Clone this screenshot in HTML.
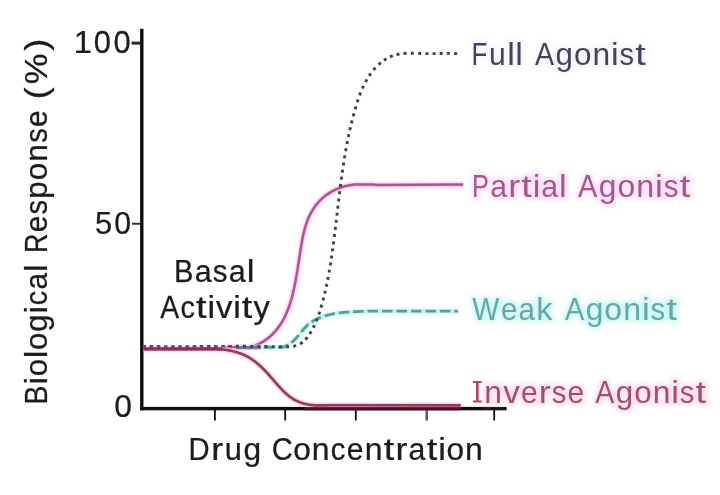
<!DOCTYPE html>
<html>
<head>
<meta charset="utf-8">
<title>Agonist dose-response curves</title>
<style>
  html, body { margin: 0; padding: 0; background: #ffffff; }
  body { width: 720px; height: 495px; overflow: hidden; font-family: "Liberation Sans", sans-serif; }
  svg { display: block; }
  text { font-family: "Liberation Sans", sans-serif; font-size: 31.54px; }
</style>
</head>
<body>
<svg width="720" height="495" viewBox="0 0 720 495">
  <rect x="0" y="0" width="720" height="495" fill="#ffffff"/>
  <defs><filter id="soft" x="-2%" y="-2%" width="104%" height="104%"><feGaussianBlur stdDeviation="0.45"/></filter><filter id="halo" x="-5%" y="-5%" width="110%" height="110%"><feGaussianBlur stdDeviation="2.2"/></filter></defs>
  <g filter="url(#soft)">
  <!-- axes -->
  <g fill="#111111" stroke="none">
    <rect x="140.1" y="28.8" width="3.4" height="381.5"/>
    <rect x="140.1" y="406.9" width="366.5" height="3.4"/>
    <rect x="131.5" y="41.6" width="9" height="3.0" fill="#2a2a2a"/>
    <rect x="132.0" y="222.8" width="9" height="1.9" fill="#2e2e2e"/>
    <rect x="214.0" y="409" width="1.8" height="11.5"/>
    <rect x="284.3" y="409" width="1.8" height="11.5"/>
    <rect x="354.9" y="409" width="1.8" height="11.5"/>
    <rect x="425.5" y="409" width="2.4" height="11.5" fill="#555555"/>
    <rect x="493.3" y="409" width="1.8" height="11.5"/>
  </g>

  <!-- partial agonist -->
  <g fill="none" stroke-linejoin="round">
    <path d="M224.0,347.4 L235.8,347.2 L236.8,347.3 L237.8,347.4 L238.8,347.4 L239.8,347.4 L240.8,347.4 L241.8,347.4 L242.8,347.4 L243.8,347.4 L244.8,347.4 L245.8,347.4 L246.8,347.4 L247.8,347.3 L248.7,347.1 L249.7,346.9 L250.7,346.7 L251.7,346.5 L252.6,346.2 L253.6,345.9 L254.6,345.6 L255.5,345.3 L256.4,344.9 L257.4,344.6 L258.3,344.1 L259.2,343.7 L260.1,343.3 L261.0,342.8 L261.8,342.3 L262.7,341.8 L263.6,341.3 L264.4,340.8 L265.2,340.2 L266.0,339.6 L266.8,339.0 L267.6,338.4 L268.4,337.8 L269.2,337.2 L270.0,336.5 L270.7,335.8 L271.4,335.2 L272.2,334.5 L272.9,333.8 L273.6,333.0 L274.2,332.3 L274.9,331.6 L275.6,330.8 L276.2,330.1 L276.9,329.3 L277.5,328.5 L278.1,327.7 L278.7,326.9 L279.3,326.1 L279.8,325.3 L280.4,324.4 L280.9,323.6 L281.5,322.7 L282.0,321.9 L282.5,321.0 L283.0,320.2 L283.5,319.3 L284.0,318.4 L284.4,317.5 L284.9,316.6 L285.3,315.7 L285.7,314.8 L286.1,313.9 L286.5,313.0 L286.9,312.1 L287.3,311.1 L287.7,310.2 L288.1,309.3 L288.4,308.3 L288.8,307.4 L289.1,306.5 L289.4,305.5 L289.7,304.6 L290.0,303.6 L290.3,302.7 L290.6,301.7 L290.9,300.7 L291.2,299.8 L291.5,298.8 L291.8,297.9 L292.0,296.9 L292.3,295.9 L292.5,295.0 L292.8,294.0 L293.0,293.0 L293.2,292.0 L293.4,291.1 L293.7,290.1 L293.9,289.1 L294.1,288.1 L294.3,287.2 L294.5,286.2 L294.7,285.2 L294.9,284.2 L295.1,283.2 L295.3,282.2 L295.5,281.3 L295.7,280.3 L295.8,279.3 L296.0,278.3 L296.2,277.3 L296.4,276.3 L296.5,275.4 L296.7,274.4 L296.9,273.4 L297.0,272.4 L297.2,271.4 L297.4,270.4 L297.5,269.4 L297.7,268.4 L297.8,267.5 L298.0,266.5 L298.1,265.5 L298.3,264.5 L298.4,263.5 L298.6,262.5 L298.8,261.5 L298.9,260.5 L299.1,259.5 L299.2,258.6 L299.4,257.6 L299.5,256.6 L299.7,255.6 L299.8,254.6 L300.0,253.6 L300.1,252.6 L300.3,251.6 L300.4,250.6 L300.6,249.6 L300.7,248.7 L300.9,247.7 L301.0,246.7 L301.2,245.7 L301.4,244.7 L301.5,243.7 L301.7,242.7 L301.9,241.8 L302.1,240.8 L302.2,239.8 L302.4,238.8 L302.6,237.8 L302.8,236.8 L303.0,235.9 L303.2,234.9 L303.5,233.9 L303.7,232.9 L303.9,232.0 L304.2,231.0 L304.4,230.0 L304.7,229.1 L304.9,228.1 L305.2,227.1 L305.5,226.2 L305.8,225.2 L306.1,224.3 L306.4,223.3 L306.8,222.4 L307.1,221.4 L307.5,220.5 L307.8,219.6 L308.2,218.6 L308.6,217.7 L309.0,216.8 L309.4,215.9 L309.9,215.0 L310.3,214.1 L310.8,213.2 L311.3,212.3 L311.7,211.5 L312.3,210.6 L312.8,209.7 L313.3,208.9 L313.9,208.1 L314.4,207.2 L315.0,206.4 L315.6,205.6 L316.2,204.8 L316.8,204.0 L317.5,203.3 L318.1,202.5 L318.8,201.8 L319.5,201.0 L320.2,200.3 L320.9,199.6 L321.6,198.9 L322.4,198.2 L323.1,197.6 L323.9,196.9 L324.6,196.3 L325.4,195.7 L326.2,195.1 L327.0,194.5 L327.9,193.9 L328.7,193.4 L329.5,192.8 L330.4,192.3 L331.3,191.8 L332.1,191.3 L333.0,190.9 L333.9,190.4 L334.8,190.0 L335.7,189.5 L336.6,189.1 L337.6,188.7 L338.5,188.4 L339.4,188.0 L340.4,187.7 L341.3,187.4 L342.3,187.0 L343.2,186.8 L344.2,186.5 L345.1,186.2 L346.1,186.0 L347.1,185.8 L348.1,185.5 L349.0,185.4 L350.0,185.2 L351.0,185.0 L352.0,184.9 L353.0,184.7 L354.0,184.6 L355.0,184.6 L356.0,184.6 L357.0,184.6 L358.0,184.6 L359.0,184.6 L360.0,184.6 L361.0,184.6 L362.0,184.6 L363.0,184.6 L364.0,184.6 L365.0,184.6 L366.0,184.6 L367.0,184.6 L368.0,184.6 L369.0,184.6 L370.0,184.6 L371.0,184.6 L372.0,184.6 L373.0,184.6 L374.0,184.7 L375.0,184.8 L376.0,184.9 L463.2,184.6" stroke="#fbd0ee" stroke-width="6.5" opacity="0.55"/>
    <path d="M224.0,347.4 L235.8,347.2 L236.8,347.3 L237.8,347.4 L238.8,347.4 L239.8,347.4 L240.8,347.4 L241.8,347.4 L242.8,347.4 L243.8,347.4 L244.8,347.4 L245.8,347.4 L246.8,347.4 L247.8,347.3 L248.7,347.1 L249.7,346.9 L250.7,346.7 L251.7,346.5 L252.6,346.2 L253.6,345.9 L254.6,345.6 L255.5,345.3 L256.4,344.9 L257.4,344.6 L258.3,344.1 L259.2,343.7 L260.1,343.3 L261.0,342.8 L261.8,342.3 L262.7,341.8 L263.6,341.3 L264.4,340.8 L265.2,340.2 L266.0,339.6 L266.8,339.0 L267.6,338.4 L268.4,337.8 L269.2,337.2 L270.0,336.5 L270.7,335.8 L271.4,335.2 L272.2,334.5 L272.9,333.8 L273.6,333.0 L274.2,332.3 L274.9,331.6 L275.6,330.8 L276.2,330.1 L276.9,329.3 L277.5,328.5 L278.1,327.7 L278.7,326.9 L279.3,326.1 L279.8,325.3 L280.4,324.4 L280.9,323.6 L281.5,322.7 L282.0,321.9 L282.5,321.0 L283.0,320.2 L283.5,319.3 L284.0,318.4 L284.4,317.5 L284.9,316.6 L285.3,315.7 L285.7,314.8 L286.1,313.9 L286.5,313.0 L286.9,312.1 L287.3,311.1 L287.7,310.2 L288.1,309.3 L288.4,308.3 L288.8,307.4 L289.1,306.5 L289.4,305.5 L289.7,304.6 L290.0,303.6 L290.3,302.7 L290.6,301.7 L290.9,300.7 L291.2,299.8 L291.5,298.8 L291.8,297.9 L292.0,296.9 L292.3,295.9 L292.5,295.0 L292.8,294.0 L293.0,293.0 L293.2,292.0 L293.4,291.1 L293.7,290.1 L293.9,289.1 L294.1,288.1 L294.3,287.2 L294.5,286.2 L294.7,285.2 L294.9,284.2 L295.1,283.2 L295.3,282.2 L295.5,281.3 L295.7,280.3 L295.8,279.3 L296.0,278.3 L296.2,277.3 L296.4,276.3 L296.5,275.4 L296.7,274.4 L296.9,273.4 L297.0,272.4 L297.2,271.4 L297.4,270.4 L297.5,269.4 L297.7,268.4 L297.8,267.5 L298.0,266.5 L298.1,265.5 L298.3,264.5 L298.4,263.5 L298.6,262.5 L298.8,261.5 L298.9,260.5 L299.1,259.5 L299.2,258.6 L299.4,257.6 L299.5,256.6 L299.7,255.6 L299.8,254.6 L300.0,253.6 L300.1,252.6 L300.3,251.6 L300.4,250.6 L300.6,249.6 L300.7,248.7 L300.9,247.7 L301.0,246.7 L301.2,245.7 L301.4,244.7 L301.5,243.7 L301.7,242.7 L301.9,241.8 L302.1,240.8 L302.2,239.8 L302.4,238.8 L302.6,237.8 L302.8,236.8 L303.0,235.9 L303.2,234.9 L303.5,233.9 L303.7,232.9 L303.9,232.0 L304.2,231.0 L304.4,230.0 L304.7,229.1 L304.9,228.1 L305.2,227.1 L305.5,226.2 L305.8,225.2 L306.1,224.3 L306.4,223.3 L306.8,222.4 L307.1,221.4 L307.5,220.5 L307.8,219.6 L308.2,218.6 L308.6,217.7 L309.0,216.8 L309.4,215.9 L309.9,215.0 L310.3,214.1 L310.8,213.2 L311.3,212.3 L311.7,211.5 L312.3,210.6 L312.8,209.7 L313.3,208.9 L313.9,208.1 L314.4,207.2 L315.0,206.4 L315.6,205.6 L316.2,204.8 L316.8,204.0 L317.5,203.3 L318.1,202.5 L318.8,201.8 L319.5,201.0 L320.2,200.3 L320.9,199.6 L321.6,198.9 L322.4,198.2 L323.1,197.6 L323.9,196.9 L324.6,196.3 L325.4,195.7 L326.2,195.1 L327.0,194.5 L327.9,193.9 L328.7,193.4 L329.5,192.8 L330.4,192.3 L331.3,191.8 L332.1,191.3 L333.0,190.9 L333.9,190.4 L334.8,190.0 L335.7,189.5 L336.6,189.1 L337.6,188.7 L338.5,188.4 L339.4,188.0 L340.4,187.7 L341.3,187.4 L342.3,187.0 L343.2,186.8 L344.2,186.5 L345.1,186.2 L346.1,186.0 L347.1,185.8 L348.1,185.5 L349.0,185.4 L350.0,185.2 L351.0,185.0 L352.0,184.9 L353.0,184.7 L354.0,184.6 L355.0,184.6 L356.0,184.6 L357.0,184.6 L358.0,184.6 L359.0,184.6 L360.0,184.6 L361.0,184.6 L362.0,184.6 L363.0,184.6 L364.0,184.6 L365.0,184.6 L366.0,184.6 L367.0,184.6 L368.0,184.6 L369.0,184.6 L370.0,184.6 L371.0,184.6 L372.0,184.6 L373.0,184.6 L374.0,184.7 L375.0,184.8 L376.0,184.9 L463.2,184.6" stroke="#f3b4dc" stroke-width="3.6" opacity="0.6"/>
    <path d="M224.0,347.4 L235.8,347.2 L236.8,347.3 L237.8,347.4 L238.8,347.4 L239.8,347.4 L240.8,347.4 L241.8,347.4 L242.8,347.4 L243.8,347.4 L244.8,347.4 L245.8,347.4 L246.8,347.4 L247.8,347.3 L248.7,347.1 L249.7,346.9 L250.7,346.7 L251.7,346.5 L252.6,346.2 L253.6,345.9 L254.6,345.6 L255.5,345.3 L256.4,344.9 L257.4,344.6 L258.3,344.1 L259.2,343.7 L260.1,343.3 L261.0,342.8 L261.8,342.3 L262.7,341.8 L263.6,341.3 L264.4,340.8 L265.2,340.2 L266.0,339.6 L266.8,339.0 L267.6,338.4 L268.4,337.8 L269.2,337.2 L270.0,336.5 L270.7,335.8 L271.4,335.2 L272.2,334.5 L272.9,333.8 L273.6,333.0 L274.2,332.3 L274.9,331.6 L275.6,330.8 L276.2,330.1 L276.9,329.3 L277.5,328.5 L278.1,327.7 L278.7,326.9 L279.3,326.1 L279.8,325.3 L280.4,324.4 L280.9,323.6 L281.5,322.7 L282.0,321.9 L282.5,321.0 L283.0,320.2 L283.5,319.3 L284.0,318.4 L284.4,317.5 L284.9,316.6 L285.3,315.7 L285.7,314.8 L286.1,313.9 L286.5,313.0 L286.9,312.1 L287.3,311.1 L287.7,310.2 L288.1,309.3 L288.4,308.3 L288.8,307.4 L289.1,306.5 L289.4,305.5 L289.7,304.6 L290.0,303.6 L290.3,302.7 L290.6,301.7 L290.9,300.7 L291.2,299.8 L291.5,298.8 L291.8,297.9 L292.0,296.9 L292.3,295.9 L292.5,295.0 L292.8,294.0 L293.0,293.0 L293.2,292.0 L293.4,291.1 L293.7,290.1 L293.9,289.1 L294.1,288.1 L294.3,287.2 L294.5,286.2 L294.7,285.2 L294.9,284.2 L295.1,283.2 L295.3,282.2 L295.5,281.3 L295.7,280.3 L295.8,279.3 L296.0,278.3 L296.2,277.3 L296.4,276.3 L296.5,275.4 L296.7,274.4 L296.9,273.4 L297.0,272.4 L297.2,271.4 L297.4,270.4 L297.5,269.4 L297.7,268.4 L297.8,267.5 L298.0,266.5 L298.1,265.5 L298.3,264.5 L298.4,263.5 L298.6,262.5 L298.8,261.5 L298.9,260.5 L299.1,259.5 L299.2,258.6 L299.4,257.6 L299.5,256.6 L299.7,255.6 L299.8,254.6 L300.0,253.6 L300.1,252.6 L300.3,251.6 L300.4,250.6 L300.6,249.6 L300.7,248.7 L300.9,247.7 L301.0,246.7 L301.2,245.7 L301.4,244.7 L301.5,243.7 L301.7,242.7 L301.9,241.8 L302.1,240.8 L302.2,239.8 L302.4,238.8 L302.6,237.8 L302.8,236.8 L303.0,235.9 L303.2,234.9 L303.5,233.9 L303.7,232.9 L303.9,232.0 L304.2,231.0 L304.4,230.0 L304.7,229.1 L304.9,228.1 L305.2,227.1 L305.5,226.2 L305.8,225.2 L306.1,224.3 L306.4,223.3 L306.8,222.4 L307.1,221.4 L307.5,220.5 L307.8,219.6 L308.2,218.6 L308.6,217.7 L309.0,216.8 L309.4,215.9 L309.9,215.0 L310.3,214.1 L310.8,213.2 L311.3,212.3 L311.7,211.5 L312.3,210.6 L312.8,209.7 L313.3,208.9 L313.9,208.1 L314.4,207.2 L315.0,206.4 L315.6,205.6 L316.2,204.8 L316.8,204.0 L317.5,203.3 L318.1,202.5 L318.8,201.8 L319.5,201.0 L320.2,200.3 L320.9,199.6 L321.6,198.9 L322.4,198.2 L323.1,197.6 L323.9,196.9 L324.6,196.3 L325.4,195.7 L326.2,195.1 L327.0,194.5 L327.9,193.9 L328.7,193.4 L329.5,192.8 L330.4,192.3 L331.3,191.8 L332.1,191.3 L333.0,190.9 L333.9,190.4 L334.8,190.0 L335.7,189.5 L336.6,189.1 L337.6,188.7 L338.5,188.4 L339.4,188.0 L340.4,187.7 L341.3,187.4 L342.3,187.0 L343.2,186.8 L344.2,186.5 L345.1,186.2 L346.1,186.0 L347.1,185.8 L348.1,185.5 L349.0,185.4 L350.0,185.2 L351.0,185.0 L352.0,184.9 L353.0,184.7 L354.0,184.6 L355.0,184.6 L356.0,184.6 L357.0,184.6 L358.0,184.6 L359.0,184.6 L360.0,184.6 L361.0,184.6 L362.0,184.6 L363.0,184.6 L364.0,184.6 L365.0,184.6 L366.0,184.6 L367.0,184.6 L368.0,184.6 L369.0,184.6 L370.0,184.6 L371.0,184.6 L372.0,184.6 L373.0,184.6 L374.0,184.7 L375.0,184.8 L376.0,184.9 L463.2,184.6" stroke="#b84f94" stroke-width="2.5"/>
  </g>

  <!-- weak agonist -->
  <g fill="none" stroke-linejoin="round">
    <path d="M458.1,311.1 L369.9,311.1 L368.9,311.1 L367.9,311.1 L366.9,311.1 L365.9,311.2 L364.8,311.2 L363.8,311.3 L362.8,311.3 L361.8,311.4 L360.8,311.4 L359.8,311.4 L358.8,311.5 L357.8,311.5 L356.8,311.6 L355.8,311.6 L354.8,311.6 L353.8,311.7 L352.8,311.7 L351.8,311.8 L350.7,311.9 L349.7,311.9 L348.7,312.0 L347.7,312.1 L346.7,312.1 L345.7,312.2 L344.7,312.3 L343.7,312.4 L342.7,312.5 L341.7,312.6 L340.7,312.7 L339.7,312.8 L338.7,313.0 L337.7,313.1 L336.7,313.2 L335.7,313.4 L334.7,313.6 L333.7,313.7 L332.7,313.9 L331.7,314.1 L330.8,314.3 L329.8,314.6 L328.8,314.8 L327.8,315.0 L326.8,315.3 L325.9,315.6 L324.9,315.9 L323.9,316.2 L323.0,316.5 L322.0,316.8 L321.1,317.1 L320.1,317.5 L319.2,317.9 L318.3,318.3 L317.4,318.7 L316.4,319.1 L315.5,319.6 L314.7,320.0 L313.8,320.5 L312.9,321.1 L312.0,321.6 L311.2,322.1 L310.4,322.7 L309.6,323.3 L308.8,324.0 L308.0,324.6 L307.3,325.3 L306.6,326.0 L305.9,326.7 L305.2,327.5 L304.5,328.2 L303.8,329.0 L303.2,329.7 L302.5,330.5 L301.9,331.3 L301.3,332.1 L300.6,332.9 L300.0,333.7 L299.4,334.4 L298.7,335.2 L298.1,336.0 L297.4,336.8 L296.7,337.5 L296.1,338.3 L295.4,339.0 L294.7,339.7 L293.9,340.4 L293.2,341.1 L292.5,341.8 L291.7,342.4 L290.9,343.0 L290.1,343.6 L289.2,344.2 L288.4,344.7 L287.5,345.2 L286.6,345.7 L285.7,346.1 L284.8,346.5 L283.8,346.8 L282.8,347.1 L281.9,347.4 L280.9,347.4 L279.9,347.4 L278.9,347.4 L277.9,347.4 L276.9,347.4 L275.9,347.4 L274.9,347.4 L273.9,347.4 L272.9,347.4 L271.9,347.4 L270.9,347.4 L269.9,347.2 L238.0,347.4" stroke="#c9f7f4" stroke-width="6.5" opacity="0.45"/>
    <path d="M458.1,311.1 L369.9,311.1 L368.9,311.1 L367.9,311.1 L366.9,311.1 L365.9,311.2 L364.8,311.2 L363.8,311.3 L362.8,311.3 L361.8,311.4 L360.8,311.4 L359.8,311.4 L358.8,311.5 L357.8,311.5 L356.8,311.6 L355.8,311.6 L354.8,311.6 L353.8,311.7 L352.8,311.7 L351.8,311.8 L350.7,311.9 L349.7,311.9 L348.7,312.0 L347.7,312.1 L346.7,312.1 L345.7,312.2 L344.7,312.3 L343.7,312.4 L342.7,312.5 L341.7,312.6 L340.7,312.7 L339.7,312.8 L338.7,313.0 L337.7,313.1 L336.7,313.2 L335.7,313.4 L334.7,313.6 L333.7,313.7 L332.7,313.9 L331.7,314.1 L330.8,314.3 L329.8,314.6 L328.8,314.8 L327.8,315.0 L326.8,315.3 L325.9,315.6 L324.9,315.9 L323.9,316.2 L323.0,316.5 L322.0,316.8 L321.1,317.1 L320.1,317.5 L319.2,317.9 L318.3,318.3 L317.4,318.7 L316.4,319.1 L315.5,319.6 L314.7,320.0 L313.8,320.5 L312.9,321.1 L312.0,321.6 L311.2,322.1 L310.4,322.7 L309.6,323.3 L308.8,324.0 L308.0,324.6 L307.3,325.3 L306.6,326.0 L305.9,326.7 L305.2,327.5 L304.5,328.2 L303.8,329.0 L303.2,329.7 L302.5,330.5 L301.9,331.3 L301.3,332.1 L300.6,332.9 L300.0,333.7 L299.4,334.4 L298.7,335.2 L298.1,336.0 L297.4,336.8 L296.7,337.5 L296.1,338.3 L295.4,339.0 L294.7,339.7 L293.9,340.4 L293.2,341.1 L292.5,341.8 L291.7,342.4 L290.9,343.0 L290.1,343.6 L289.2,344.2 L288.4,344.7 L287.5,345.2 L286.6,345.7 L285.7,346.1 L284.8,346.5 L283.8,346.8 L282.8,347.1 L281.9,347.4 L280.9,347.4 L279.9,347.4 L278.9,347.4 L277.9,347.4 L276.9,347.4 L275.9,347.4 L274.9,347.4 L273.9,347.4 L272.9,347.4 L271.9,347.4 L270.9,347.4 L269.9,347.2 L238.0,347.4" stroke="#b4f0ec" stroke-width="3.6" opacity="0.7"/>
    <path d="M458.1,311.1 L369.9,311.1 L368.9,311.1 L367.9,311.1 L366.9,311.1 L365.9,311.2 L364.8,311.2 L363.8,311.3 L362.8,311.3 L361.8,311.4 L360.8,311.4 L359.8,311.4 L358.8,311.5 L357.8,311.5 L356.8,311.6 L355.8,311.6 L354.8,311.6 L353.8,311.7 L352.8,311.7 L351.8,311.8 L350.7,311.9 L349.7,311.9 L348.7,312.0 L347.7,312.1 L346.7,312.1 L345.7,312.2 L344.7,312.3 L343.7,312.4 L342.7,312.5 L341.7,312.6 L340.7,312.7 L339.7,312.8 L338.7,313.0 L337.7,313.1 L336.7,313.2 L335.7,313.4 L334.7,313.6 L333.7,313.7 L332.7,313.9 L331.7,314.1 L330.8,314.3 L329.8,314.6 L328.8,314.8 L327.8,315.0 L326.8,315.3 L325.9,315.6 L324.9,315.9 L323.9,316.2 L323.0,316.5 L322.0,316.8 L321.1,317.1 L320.1,317.5 L319.2,317.9 L318.3,318.3 L317.4,318.7 L316.4,319.1 L315.5,319.6 L314.7,320.0 L313.8,320.5 L312.9,321.1 L312.0,321.6 L311.2,322.1 L310.4,322.7 L309.6,323.3 L308.8,324.0 L308.0,324.6 L307.3,325.3 L306.6,326.0 L305.9,326.7 L305.2,327.5 L304.5,328.2 L303.8,329.0 L303.2,329.7 L302.5,330.5 L301.9,331.3 L301.3,332.1 L300.6,332.9 L300.0,333.7 L299.4,334.4 L298.7,335.2 L298.1,336.0 L297.4,336.8 L296.7,337.5 L296.1,338.3 L295.4,339.0 L294.7,339.7 L293.9,340.4 L293.2,341.1 L292.5,341.8 L291.7,342.4 L290.9,343.0 L290.1,343.6 L289.2,344.2 L288.4,344.7 L287.5,345.2 L286.6,345.7 L285.7,346.1 L284.8,346.5 L283.8,346.8 L282.8,347.1 L281.9,347.4 L280.9,347.4 L279.9,347.4 L278.9,347.4 L277.9,347.4 L276.9,347.4 L275.9,347.4 L274.9,347.4 L273.9,347.4 L272.9,347.4 L271.9,347.4 L270.9,347.4 L269.9,347.2 L238.0,347.4" stroke="#52a09c" stroke-width="2.8" stroke-dasharray="10.4 4.06" stroke-dashoffset="6.7"/>
  </g>
  <!-- blended segment where curves overlap -->
  <path d="M236,347.6 L261,347.6" fill="none" stroke="#7d6f9c" stroke-width="3.2"/>

  <!-- inverse agonist -->
  <g fill="none" stroke-linejoin="round">
    <path d="M143.5,349.0 L205.1,349.0 L206.1,349.0 L207.1,349.0 L208.1,349.0 L209.1,349.0 L210.1,349.0 L211.1,349.0 L212.1,349.0 L213.1,349.0 L214.1,349.0 L215.1,349.0 L216.1,349.0 L217.1,349.0 L218.1,349.1 L219.1,349.2 L220.1,349.3 L221.1,349.3 L222.1,349.4 L223.1,349.5 L224.1,349.7 L225.1,349.8 L226.1,349.9 L227.1,350.1 L228.1,350.3 L229.0,350.4 L230.0,350.6 L231.0,350.8 L232.0,351.0 L233.0,351.3 L233.9,351.5 L234.9,351.8 L235.9,352.0 L236.8,352.3 L237.8,352.6 L238.7,352.9 L239.7,353.2 L240.6,353.6 L241.6,353.9 L242.5,354.3 L243.4,354.7 L244.3,355.1 L245.2,355.5 L246.1,356.0 L247.0,356.4 L247.9,356.9 L248.8,357.4 L249.6,357.9 L250.5,358.5 L251.3,359.0 L252.1,359.6 L253.0,360.1 L253.8,360.7 L254.6,361.3 L255.4,361.9 L256.2,362.5 L256.9,363.2 L257.7,363.8 L258.5,364.5 L259.2,365.1 L260.0,365.8 L260.7,366.5 L261.4,367.1 L262.2,367.8 L262.9,368.5 L263.6,369.2 L264.3,370.0 L265.0,370.7 L265.7,371.4 L266.4,372.1 L267.1,372.9 L267.7,373.6 L268.4,374.3 L269.1,375.1 L269.7,375.8 L270.4,376.6 L271.1,377.3 L271.7,378.1 L272.4,378.8 L273.0,379.6 L273.7,380.4 L274.3,381.1 L275.0,381.9 L275.6,382.6 L276.3,383.4 L277.0,384.2 L277.6,384.9 L278.3,385.7 L279.0,386.4 L279.6,387.1 L280.3,387.9 L281.0,388.6 L281.7,389.3 L282.4,390.0 L283.1,390.8 L283.8,391.5 L284.5,392.2 L285.2,392.8 L286.0,393.5 L286.7,394.2 L287.5,394.8 L288.3,395.5 L289.0,396.1 L289.8,396.7 L290.6,397.3 L291.5,397.9 L292.3,398.4 L293.1,399.0 L294.0,399.5 L294.9,400.0 L295.7,400.5 L296.6,400.9 L297.5,401.3 L298.5,401.7 L299.4,402.1 L300.3,402.5 L301.3,402.8 L302.2,403.1 L303.2,403.4 L304.2,403.7 L305.1,403.9 L306.1,404.1 L307.1,404.3 L308.1,404.5 L309.0,404.7 L310.0,404.8 L311.0,405.0 L312.0,405.1 L313.0,405.2 L314.0,405.3 L315.0,405.4 L316.0,405.4 L317.0,405.4 L318.0,405.4 L319.0,405.4 L320.0,405.4 L321.0,405.4 L322.0,405.4 L323.0,405.4 L324.0,405.4 L325.0,405.4 L326.0,405.4 L327.0,405.4 L328.0,405.4 L329.0,405.3 L330.0,405.2 L460.8,405.4" stroke="#fbd3e4" stroke-width="6.5" opacity="0.55"/>
    <path d="M143.5,349.0 L205.1,349.0 L206.1,349.0 L207.1,349.0 L208.1,349.0 L209.1,349.0 L210.1,349.0 L211.1,349.0 L212.1,349.0 L213.1,349.0 L214.1,349.0 L215.1,349.0 L216.1,349.0 L217.1,349.0 L218.1,349.1 L219.1,349.2 L220.1,349.3 L221.1,349.3 L222.1,349.4 L223.1,349.5 L224.1,349.7 L225.1,349.8 L226.1,349.9 L227.1,350.1 L228.1,350.3 L229.0,350.4 L230.0,350.6 L231.0,350.8 L232.0,351.0 L233.0,351.3 L233.9,351.5 L234.9,351.8 L235.9,352.0 L236.8,352.3 L237.8,352.6 L238.7,352.9 L239.7,353.2 L240.6,353.6 L241.6,353.9 L242.5,354.3 L243.4,354.7 L244.3,355.1 L245.2,355.5 L246.1,356.0 L247.0,356.4 L247.9,356.9 L248.8,357.4 L249.6,357.9 L250.5,358.5 L251.3,359.0 L252.1,359.6 L253.0,360.1 L253.8,360.7 L254.6,361.3 L255.4,361.9 L256.2,362.5 L256.9,363.2 L257.7,363.8 L258.5,364.5 L259.2,365.1 L260.0,365.8 L260.7,366.5 L261.4,367.1 L262.2,367.8 L262.9,368.5 L263.6,369.2 L264.3,370.0 L265.0,370.7 L265.7,371.4 L266.4,372.1 L267.1,372.9 L267.7,373.6 L268.4,374.3 L269.1,375.1 L269.7,375.8 L270.4,376.6 L271.1,377.3 L271.7,378.1 L272.4,378.8 L273.0,379.6 L273.7,380.4 L274.3,381.1 L275.0,381.9 L275.6,382.6 L276.3,383.4 L277.0,384.2 L277.6,384.9 L278.3,385.7 L279.0,386.4 L279.6,387.1 L280.3,387.9 L281.0,388.6 L281.7,389.3 L282.4,390.0 L283.1,390.8 L283.8,391.5 L284.5,392.2 L285.2,392.8 L286.0,393.5 L286.7,394.2 L287.5,394.8 L288.3,395.5 L289.0,396.1 L289.8,396.7 L290.6,397.3 L291.5,397.9 L292.3,398.4 L293.1,399.0 L294.0,399.5 L294.9,400.0 L295.7,400.5 L296.6,400.9 L297.5,401.3 L298.5,401.7 L299.4,402.1 L300.3,402.5 L301.3,402.8 L302.2,403.1 L303.2,403.4 L304.2,403.7 L305.1,403.9 L306.1,404.1 L307.1,404.3 L308.1,404.5 L309.0,404.7 L310.0,404.8 L311.0,405.0 L312.0,405.1 L313.0,405.2 L314.0,405.3 L315.0,405.4 L316.0,405.4 L317.0,405.4 L318.0,405.4 L319.0,405.4 L320.0,405.4 L321.0,405.4 L322.0,405.4 L323.0,405.4 L324.0,405.4 L325.0,405.4 L326.0,405.4 L327.0,405.4 L328.0,405.4 L329.0,405.3 L330.0,405.2 L460.8,405.4" stroke="#f3b9d0" stroke-width="4.2" opacity="0.6"/>
    <path d="M143.5,349.0 L205.1,349.0 L206.1,349.0 L207.1,349.0 L208.1,349.0 L209.1,349.0 L210.1,349.0 L211.1,349.0 L212.1,349.0 L213.1,349.0 L214.1,349.0 L215.1,349.0 L216.1,349.0 L217.1,349.0 L218.1,349.1 L219.1,349.2 L220.1,349.3 L221.1,349.3 L222.1,349.4 L223.1,349.5 L224.1,349.7 L225.1,349.8 L226.1,349.9 L227.1,350.1 L228.1,350.3 L229.0,350.4 L230.0,350.6 L231.0,350.8 L232.0,351.0 L233.0,351.3 L233.9,351.5 L234.9,351.8 L235.9,352.0 L236.8,352.3 L237.8,352.6 L238.7,352.9 L239.7,353.2 L240.6,353.6 L241.6,353.9 L242.5,354.3 L243.4,354.7 L244.3,355.1 L245.2,355.5 L246.1,356.0 L247.0,356.4 L247.9,356.9 L248.8,357.4 L249.6,357.9 L250.5,358.5 L251.3,359.0 L252.1,359.6 L253.0,360.1 L253.8,360.7 L254.6,361.3 L255.4,361.9 L256.2,362.5 L256.9,363.2 L257.7,363.8 L258.5,364.5 L259.2,365.1 L260.0,365.8 L260.7,366.5 L261.4,367.1 L262.2,367.8 L262.9,368.5 L263.6,369.2 L264.3,370.0 L265.0,370.7 L265.7,371.4 L266.4,372.1 L267.1,372.9 L267.7,373.6 L268.4,374.3 L269.1,375.1 L269.7,375.8 L270.4,376.6 L271.1,377.3 L271.7,378.1 L272.4,378.8 L273.0,379.6 L273.7,380.4 L274.3,381.1 L275.0,381.9 L275.6,382.6 L276.3,383.4 L277.0,384.2 L277.6,384.9 L278.3,385.7 L279.0,386.4 L279.6,387.1 L280.3,387.9 L281.0,388.6 L281.7,389.3 L282.4,390.0 L283.1,390.8 L283.8,391.5 L284.5,392.2 L285.2,392.8 L286.0,393.5 L286.7,394.2 L287.5,394.8 L288.3,395.5 L289.0,396.1 L289.8,396.7 L290.6,397.3 L291.5,397.9 L292.3,398.4 L293.1,399.0 L294.0,399.5 L294.9,400.0 L295.7,400.5 L296.6,400.9 L297.5,401.3 L298.5,401.7 L299.4,402.1 L300.3,402.5 L301.3,402.8 L302.2,403.1 L303.2,403.4 L304.2,403.7 L305.1,403.9 L306.1,404.1 L307.1,404.3 L308.1,404.5 L309.0,404.7 L310.0,404.8 L311.0,405.0 L312.0,405.1 L313.0,405.2 L314.0,405.3 L315.0,405.4 L316.0,405.4 L317.0,405.4 L318.0,405.4 L319.0,405.4 L320.0,405.4 L321.0,405.4 L322.0,405.4 L323.0,405.4 L324.0,405.4 L325.0,405.4 L326.0,405.4 L327.0,405.4 L328.0,405.4 L329.0,405.3 L330.0,405.2 L460.8,405.4" stroke="#98375f" stroke-width="2.6"/>
    <path d="M143.5,348.9 L222,348.9" stroke="#8a3059" stroke-width="3.3"/>
  </g>
  <rect x="304" y="407.2" width="157" height="3.1" fill="#4a0d26"/>

  <!-- full agonist (dotted) -->
  <path d="M142.42,346.28L146.02,346.32 M149.60,346.36L153.20,346.39 M156.78,346.42L160.38,346.44 M163.95,346.46L167.55,346.47 M171.11,346.47L174.71,346.47 M178.27,346.47L181.87,346.47 M185.43,346.46L189.03,346.45 M192.58,346.44L196.18,346.42 M199.73,346.41L203.33,346.39 M206.88,346.38L210.48,346.36 M214.03,346.35L217.63,346.33 M221.18,346.32L224.78,346.31 M228.34,346.31L231.94,346.30" fill="none" stroke="#85305a" stroke-width="2.6"/>
  <path d="M235.80,346.30L238.80,346.30 M242.96,346.31L245.96,346.32 M250.13,346.34L253.13,346.36 M257.31,346.39L260.31,346.42 M264.49,346.47L267.49,346.51 M271.69,346.58L274.69,346.63 M278.89,346.72L281.89,346.79 M286.08,346.85L289.08,346.77 M293.26,346.35L296.17,345.65 M300.08,343.97L302.56,342.28 M305.42,339.57L307.35,337.28 M309.68,333.94L311.25,331.38 M313.24,327.75L314.56,325.06 M316.20,321.33L317.31,318.54 M318.78,314.44L319.72,311.60 M320.93,307.66L321.77,304.77 M322.94,300.49L323.70,297.59 M324.67,293.66L325.36,290.74 M326.24,286.78L326.87,283.85 M327.68,279.86L328.25,276.92 M329.04,272.62L329.55,269.67 M330.24,265.54L330.72,262.58 M331.35,258.46L331.79,255.50 M332.38,251.37L332.79,248.40 M333.33,244.36L333.72,241.39 M334.28,237.02L334.65,234.04 M335.16,229.91L335.52,226.93 M336.01,222.79L336.36,219.81 M336.85,215.68L337.20,212.71 M337.69,208.58L338.04,205.60 M338.53,201.46L338.89,198.48 M339.42,194.13L339.79,191.15 M340.33,186.83L340.72,183.86 M341.28,179.64L341.68,176.66 M342.24,172.63L342.67,169.66 M343.30,165.44L343.76,162.48 M344.42,158.33L344.91,155.37 M345.63,151.20L346.16,148.25 M346.94,144.06L347.51,141.11 M348.33,137.06L348.94,134.13 M349.80,130.21L350.46,127.29 M351.40,123.33L352.13,120.42 M353.19,116.29L353.97,113.40 M355.14,109.25L355.98,106.37 M357.23,102.30L358.17,99.45 M359.59,95.39L360.66,92.58 M362.36,88.51L363.61,85.78 M365.55,81.96L367.02,79.34 M369.17,75.90L370.87,73.43 M373.47,70.07L375.44,67.80 M378.57,64.63L380.82,62.64 M383.91,60.28L386.43,58.66 M389.98,56.81L392.77,55.70 M396.53,54.62L399.48,54.03 M403.55,53.52L406.55,53.32 M410.82,53.22L413.82,53.24 M418.18,53.36L421.17,53.46 M425.46,53.60L428.46,53.65 M432.60,53.65L435.60,53.61 M439.66,53.53L442.66,53.47 M446.79,53.41L449.79,53.40 M454.12,53.47L457.12,53.59" fill="none" stroke="#433e58" stroke-width="2.9"/>

  <!-- text -->
  <g>
<g filter="url(#halo)">    <g fill="#e9e6f6" stroke="#e9e6f6" stroke-width="6" stroke-linejoin="round" opacity="0.35"><text transform="translate(471.62,65.40) scale(0.8236,1.0)">F</text><text transform="translate(489.12,65.40) scale(0.9533,0.985)">u</text><text transform="translate(507.16,65.40) scale(1.0813,0.985)">l</text><text transform="translate(515.30,65.40) scale(1.0813,0.985)">l</text></g>
    <g fill="#e9e6f6" stroke="#e9e6f6" stroke-width="6" stroke-linejoin="round" opacity="0.35"><text transform="translate(534.96,65.40) scale(0.9083,1.0)">A</text><text transform="translate(555.44,65.40) scale(0.9928,0.985)">g</text><text transform="translate(573.88,65.40) scale(0.9983,0.985)">o</text><text transform="translate(592.42,65.40) scale(1.0084,0.985)">n</text><text transform="translate(611.06,65.40) scale(1.0946,0.985)">i</text><text transform="translate(619.57,65.40) scale(0.9234,0.985)">s</text><text transform="translate(635.34,65.40) scale(1.2000,0.985)">t</text></g>
    <g fill="#fcc8ec" stroke="#fcc8ec" stroke-width="6" stroke-linejoin="round" opacity="0.5"><text transform="translate(472.12,197.30) scale(0.8023,1.0)">P</text><text transform="translate(490.27,197.30) scale(0.9582,0.985)">a</text><text transform="translate(508.16,197.30) scale(1.1372,0.985)">r</text><text transform="translate(521.22,197.30) scale(1.2000,0.985)">t</text><text transform="translate(532.70,197.30) scale(1.0960,0.985)">i</text><text transform="translate(541.30,197.30) scale(0.9582,0.985)">a</text><text transform="translate(559.03,197.30) scale(1.0960,0.985)">l</text></g>
    <g fill="#fcc8ec" stroke="#fcc8ec" stroke-width="6" stroke-linejoin="round" opacity="0.5"><text transform="translate(578.09,197.30) scale(0.9190,1.0)">A</text><text transform="translate(598.81,197.30) scale(1.0045,0.985)">g</text><text transform="translate(617.46,197.30) scale(1.0101,0.985)">o</text><text transform="translate(636.23,197.30) scale(1.0202,0.985)">n</text><text transform="translate(655.09,197.30) scale(1.1075,0.985)">i</text><text transform="translate(663.69,197.30) scale(0.9343,0.985)">s</text><text transform="translate(679.72,197.30) scale(1.2000,0.985)">t</text></g>
    <g fill="#b4f3ef" stroke="#b4f3ef" stroke-width="6" stroke-linejoin="round" opacity="0.6"><text transform="translate(472.37,320.00) scale(0.9089,1.0)">W</text><text transform="translate(501.06,320.00) scale(0.9293,0.985)">e</text><text transform="translate(518.60,320.00) scale(0.9369,0.985)">a</text><text transform="translate(536.26,320.00) scale(1.0269,0.985)">k</text></g>
    <g fill="#b4f3ef" stroke="#b4f3ef" stroke-width="6" stroke-linejoin="round" opacity="0.6"><text transform="translate(564.99,320.00) scale(0.9190,1.0)">A</text><text transform="translate(585.71,320.00) scale(1.0045,0.985)">g</text><text transform="translate(604.36,320.00) scale(1.0101,0.985)">o</text><text transform="translate(623.13,320.00) scale(1.0202,0.985)">n</text><text transform="translate(641.99,320.00) scale(1.1075,0.985)">i</text><text transform="translate(650.59,320.00) scale(0.9343,0.985)">s</text><text transform="translate(666.62,320.00) scale(1.2000,0.985)">t</text></g>
    <g fill="#fcc9de" stroke="#fcc9de" stroke-width="6" stroke-linejoin="round" opacity="0.5"><path stroke="none" d="M472.92,380.90H481.72V383.10H478.67V400.40H481.72V402.60H472.92V400.40H475.97V383.10H472.92Z"/><text transform="translate(484.31,402.60) scale(1.0093,0.985)">n</text><text transform="translate(503.31,402.60) scale(1.0499,0.985)">v</text><text transform="translate(521.12,402.60) scale(0.9501,0.985)">e</text><text transform="translate(538.86,402.60) scale(1.1368,0.985)">r</text><text transform="translate(551.80,402.60) scale(0.9243,0.985)">s</text><text transform="translate(567.55,402.60) scale(0.9501,0.985)">e</text></g>
    <g fill="#fcc9de" stroke="#fcc9de" stroke-width="6" stroke-linejoin="round" opacity="0.5"><text transform="translate(595.36,402.60) scale(0.9066,1.0)">A</text><text transform="translate(615.80,402.60) scale(0.9910,0.985)">g</text><text transform="translate(634.20,402.60) scale(0.9965,0.985)">o</text><text transform="translate(652.71,402.60) scale(1.0066,0.985)">n</text><text transform="translate(671.32,402.60) scale(1.0927,0.985)">i</text><text transform="translate(679.81,402.60) scale(0.9218,0.985)">s</text><text transform="translate(695.55,402.60) scale(1.2000,0.985)">t</text></g></g>
    <g fill="#1b1b1b" stroke="#1b1b1b" stroke-width="0.25"><text transform="translate(73.81,53.20) scale(1.0366,1.0)">1</text><text transform="translate(93.85,53.20) scale(0.9809,1.0)">0</text><text transform="translate(113.40,53.20) scale(0.9809,1.0)">0</text></g>
    <g fill="#1b1b1b" stroke="#1b1b1b" stroke-width="0.25"><text transform="translate(95.06,233.70) scale(0.9805,1.0)">5</text><text transform="translate(114.36,233.70) scale(0.9588,1.0)">0</text></g>
    <g fill="#1b1b1b" stroke="#1b1b1b" stroke-width="0.25"><text transform="translate(114.30,416.60) scale(1.0092,1.0)">0</text></g>
    <g fill="#1b1b1b" stroke="#1b1b1b" stroke-width="0.25"><text transform="translate(173.92,281.90) scale(0.9214,1.0)">B</text><text transform="translate(194.67,281.90) scale(0.9681,0.985)">a</text><text transform="translate(212.84,281.90) scale(0.9341,0.985)">s</text><text transform="translate(228.77,281.90) scale(0.9681,0.985)">a</text><text transform="translate(246.68,281.90) scale(1.1072,0.985)">l</text></g>
    <g fill="#1b1b1b" stroke="#1b1b1b" stroke-width="0.25"><text transform="translate(160.34,317.90) scale(0.8993,1.0)">A</text><text transform="translate(180.52,317.90) scale(0.9143,0.985)">c</text><text transform="translate(196.08,317.90) scale(1.2000,0.985)">t</text><text transform="translate(207.49,317.90) scale(1.0838,0.985)">i</text><text transform="translate(215.99,317.90) scale(1.0385,0.985)">v</text><text transform="translate(233.26,317.90) scale(1.0838,0.985)">i</text><text transform="translate(241.75,317.90) scale(1.2000,0.985)">t</text><text transform="translate(253.49,317.90) scale(1.0385,0.985)">y</text></g>
    <g fill="#1b1b1b" stroke="#1b1b1b" stroke-width="0.25"><text transform="translate(188.40,460.30) scale(0.9268,1.0)">D</text><text transform="translate(211.14,460.30) scale(1.1503,0.985)">r</text><text transform="translate(224.74,460.30) scale(0.9774,0.985)">u</text><text transform="translate(243.60,460.30) scale(1.0056,0.985)">g</text></g>
    <g fill="#1b1b1b" stroke="#1b1b1b" stroke-width="0.25"><text transform="translate(271.82,460.30) scale(0.9249,1.0)">C</text><text transform="translate(293.25,460.30) scale(1.0022,0.985)">o</text><text transform="translate(311.87,460.30) scale(1.0123,0.985)">n</text><text transform="translate(330.84,460.30) scale(0.9270,0.985)">c</text><text transform="translate(346.64,460.30) scale(0.9529,0.985)">e</text><text transform="translate(364.65,460.30) scale(1.0123,0.985)">n</text><text transform="translate(383.77,460.30) scale(1.2000,0.985)">t</text><text transform="translate(395.42,460.30) scale(1.1401,0.985)">r</text><text transform="translate(408.48,460.30) scale(0.9608,0.985)">a</text><text transform="translate(426.65,460.30) scale(1.2000,0.985)">t</text><text transform="translate(438.15,460.30) scale(1.0989,0.985)">i</text><text transform="translate(446.50,460.30) scale(1.0022,0.985)">o</text><text transform="translate(465.12,460.30) scale(1.0123,0.985)">n</text></g>
    <g fill="#1b1b1b" stroke="#1b1b1b" stroke-width="0.25"><text transform="translate(46.50,404.53) rotate(-90) scale(0.9020,1.0)">B</text><text transform="translate(46.50,384.56) rotate(-90) scale(1.0839,0.985)">i</text><text transform="translate(46.50,376.32) rotate(-90) scale(0.9886,0.985)">o</text><text transform="translate(46.50,358.33) rotate(-90) scale(1.0839,0.985)">l</text><text transform="translate(46.50,350.09) rotate(-90) scale(0.9886,0.985)">o</text><text transform="translate(46.50,331.74) rotate(-90) scale(0.9831,0.985)">g</text><text transform="translate(46.50,313.56) rotate(-90) scale(1.0839,0.985)">i</text><text transform="translate(46.50,305.13) rotate(-90) scale(0.9144,0.985)">c</text><text transform="translate(46.50,289.54) rotate(-90) scale(0.9477,0.985)">a</text><text transform="translate(46.50,272.01) rotate(-90) scale(1.0839,0.985)">l</text></g>
    <g fill="#1b1b1b" stroke="#1b1b1b" stroke-width="0.25"><text transform="translate(46.50,253.11) rotate(-90) scale(0.8532,1.0)">R</text><text transform="translate(46.50,232.32) rotate(-90) scale(0.9491,0.985)">e</text><text transform="translate(46.50,214.49) rotate(-90) scale(0.9233,0.985)">s</text><text transform="translate(46.50,198.73) rotate(-90) scale(0.9927,0.985)">p</text><text transform="translate(46.50,180.29) rotate(-90) scale(0.9982,0.985)">o</text><text transform="translate(46.50,161.75) rotate(-90) scale(1.0083,0.985)">n</text><text transform="translate(46.50,142.85) rotate(-90) scale(0.9233,0.985)">s</text><text transform="translate(46.50,127.12) rotate(-90) scale(0.9491,0.985)">e</text></g>
    <g fill="#1b1b1b" stroke="#1b1b1b" stroke-width="0.25"><text transform="translate(46.50,99.25) rotate(-90) scale(1.1402,1.0)">(</text></g>
    <g fill="#1b1b1b" stroke="#1b1b1b" stroke-width="0.25"><text transform="translate(46.50,84.33) rotate(-90) scale(1.0971,1.0)">%</text></g>
    <g fill="#1b1b1b" stroke="#1b1b1b" stroke-width="0.25"><text transform="translate(46.50,50.63) rotate(-90) scale(1.1402,1.0)">)</text></g>
    <g fill="#48415e" stroke="#48415e" stroke-width="0.0"><text transform="translate(471.62,65.40) scale(0.8236,1.0)">F</text><text transform="translate(489.12,65.40) scale(0.9533,0.985)">u</text><text transform="translate(507.16,65.40) scale(1.0813,0.985)">l</text><text transform="translate(515.30,65.40) scale(1.0813,0.985)">l</text></g>
    <g fill="#48415e" stroke="#48415e" stroke-width="0.0"><text transform="translate(534.96,65.40) scale(0.9083,1.0)">A</text><text transform="translate(555.44,65.40) scale(0.9928,0.985)">g</text><text transform="translate(573.88,65.40) scale(0.9983,0.985)">o</text><text transform="translate(592.42,65.40) scale(1.0084,0.985)">n</text><text transform="translate(611.06,65.40) scale(1.0946,0.985)">i</text><text transform="translate(619.57,65.40) scale(0.9234,0.985)">s</text><text transform="translate(635.34,65.40) scale(1.2000,0.985)">t</text></g>
    <g fill="#a8548e" stroke="#a8548e" stroke-width="0.0"><text transform="translate(472.12,197.30) scale(0.8023,1.0)">P</text><text transform="translate(490.27,197.30) scale(0.9582,0.985)">a</text><text transform="translate(508.16,197.30) scale(1.1372,0.985)">r</text><text transform="translate(521.22,197.30) scale(1.2000,0.985)">t</text><text transform="translate(532.70,197.30) scale(1.0960,0.985)">i</text><text transform="translate(541.30,197.30) scale(0.9582,0.985)">a</text><text transform="translate(559.03,197.30) scale(1.0960,0.985)">l</text></g>
    <g fill="#a8548e" stroke="#a8548e" stroke-width="0.0"><text transform="translate(578.09,197.30) scale(0.9190,1.0)">A</text><text transform="translate(598.81,197.30) scale(1.0045,0.985)">g</text><text transform="translate(617.46,197.30) scale(1.0101,0.985)">o</text><text transform="translate(636.23,197.30) scale(1.0202,0.985)">n</text><text transform="translate(655.09,197.30) scale(1.1075,0.985)">i</text><text transform="translate(663.69,197.30) scale(0.9343,0.985)">s</text><text transform="translate(679.72,197.30) scale(1.2000,0.985)">t</text></g>
    <g fill="#62a9a8" stroke="#62a9a8" stroke-width="0.0"><text transform="translate(472.37,320.00) scale(0.9089,1.0)">W</text><text transform="translate(501.06,320.00) scale(0.9293,0.985)">e</text><text transform="translate(518.60,320.00) scale(0.9369,0.985)">a</text><text transform="translate(536.26,320.00) scale(1.0269,0.985)">k</text></g>
    <g fill="#62a9a8" stroke="#62a9a8" stroke-width="0.0"><text transform="translate(564.99,320.00) scale(0.9190,1.0)">A</text><text transform="translate(585.71,320.00) scale(1.0045,0.985)">g</text><text transform="translate(604.36,320.00) scale(1.0101,0.985)">o</text><text transform="translate(623.13,320.00) scale(1.0202,0.985)">n</text><text transform="translate(641.99,320.00) scale(1.1075,0.985)">i</text><text transform="translate(650.59,320.00) scale(0.9343,0.985)">s</text><text transform="translate(666.62,320.00) scale(1.2000,0.985)">t</text></g>
    <g fill="#ab4a70" stroke="#ab4a70" stroke-width="0.0"><path stroke="none" d="M472.92,380.90H481.72V383.10H478.67V400.40H481.72V402.60H472.92V400.40H475.97V383.10H472.92Z"/><text transform="translate(484.31,402.60) scale(1.0093,0.985)">n</text><text transform="translate(503.31,402.60) scale(1.0499,0.985)">v</text><text transform="translate(521.12,402.60) scale(0.9501,0.985)">e</text><text transform="translate(538.86,402.60) scale(1.1368,0.985)">r</text><text transform="translate(551.80,402.60) scale(0.9243,0.985)">s</text><text transform="translate(567.55,402.60) scale(0.9501,0.985)">e</text></g>
    <g fill="#ab4a70" stroke="#ab4a70" stroke-width="0.0"><text transform="translate(595.36,402.60) scale(0.9066,1.0)">A</text><text transform="translate(615.80,402.60) scale(0.9910,0.985)">g</text><text transform="translate(634.20,402.60) scale(0.9965,0.985)">o</text><text transform="translate(652.71,402.60) scale(1.0066,0.985)">n</text><text transform="translate(671.32,402.60) scale(1.0927,0.985)">i</text><text transform="translate(679.81,402.60) scale(0.9218,0.985)">s</text><text transform="translate(695.55,402.60) scale(1.2000,0.985)">t</text></g>
  </g>
  </g>
</svg>
</body>
</html>
